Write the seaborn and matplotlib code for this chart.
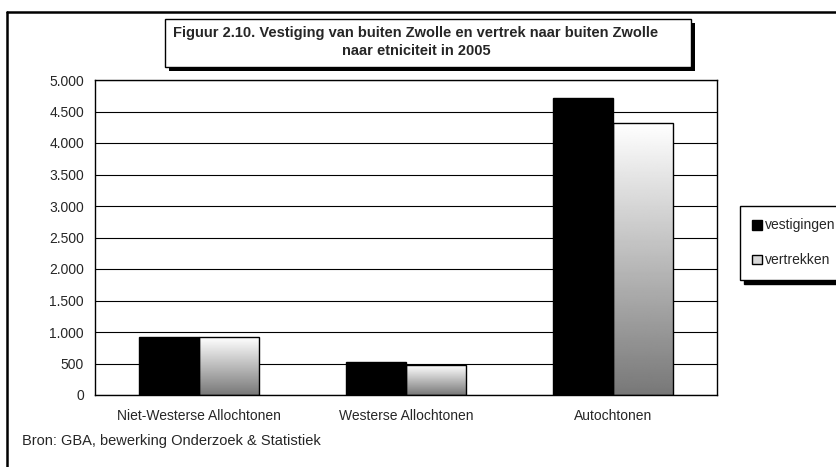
import numpy as np
import pandas as pd
import matplotlib
matplotlib.use("Agg")
import matplotlib.pyplot as plt
import seaborn as sns
from matplotlib.patches import Rectangle, Patch
from matplotlib.lines import Line2D
from matplotlib.ticker import FuncFormatter, MultipleLocator

categories = ["Niet-Westerse Allochtonen", "Westerse Allochtonen", "Autochtonen"]
vestigingen = [925, 530, 4720]
vertrekken = [920, 470, 4310]
series = ["vestigingen", "vertrekken"]

title = "Figuur 2.10. Vestiging van buiten Zwolle en vertrek naar buiten Zwolle\nnaar etniciteit in 2005"
source = "Bron: GBA, bewerking Onderzoek & Statistiek"

df = pd.DataFrame({
    "categorie": categories * 2,
    "reeks": [series[0]] * 3 + [series[1]] * 3,
    "aantal": vestigingen + vertrekken,
})

sns.set_style("white")
plt.rcParams["font.family"] = ["Liberation Sans", "DejaVu Sans"]

W, H = 837, 467
fig = plt.figure(figsize=(W / 100, H / 100), dpi=100)


def fx(px):
    return px / W


def fy(py):
    return 1 - py / H


ax = fig.add_axes([fx(95), fy(395), fx(717) - fx(95), fy(80) - fy(395)])

sns.barplot(data=df, x="categorie", y="aantal", hue="reeks", order=categories,
            hue_order=series, palette={"vestigingen": "black", "vertrekken": "white"},
            edgecolor="black", linewidth=1, width=0.58, gap=0, legend=False, ax=ax)

# gradient fill for vertrekken bars (white top -> grey bottom)
grad = np.linspace(0.47, 1.0, 256).reshape(-1, 1)
for bar in ax.containers[1]:
    x, y = bar.get_x(), bar.get_y()
    w, h = bar.get_width(), bar.get_height()
    im = ax.imshow(grad, extent=[x, x + w, y, y + h], origin="lower", aspect="auto",
                   cmap="gray", vmin=0, vmax=1, zorder=bar.get_zorder() - 0.1,
                   interpolation="bilinear")
    im.set_clip_path(bar)
    bar.set_facecolor("none")

ax.set_xlim(-0.5, 2.5)
ax.set_ylim(0, 5000)
ax.yaxis.set_major_locator(MultipleLocator(500))
ax.yaxis.set_major_formatter(FuncFormatter(lambda v, _: f"{v:,.0f}".replace(",", ".")))
ax.grid(axis="y", color="black", linewidth=0.8)
ax.set_axisbelow(True)
for s in ax.spines.values():
    s.set_color("black")
    s.set_linewidth(1)
ax.tick_params(axis="both", labelsize=10, length=0, pad=8)
ax.tick_params(axis="x", pad=10)
ax.set_xlabel("")
ax.set_ylabel("")

# outer frame (top and left lines visible)
fig.add_artist(Line2D([fx(7), 1], [fy(11.5), fy(11.5)], transform=fig.transFigure,
                      color="black", linewidth=1.8))
fig.add_artist(Line2D([fx(7), fx(7)], [fy(11.5), 0], transform=fig.transFigure,
                      color="black", linewidth=1.8))

# title box with shadow
fig.add_artist(Rectangle((fx(169), fy(71)), fx(691) - fx(165), fy(19) - fy(67),
                         transform=fig.transFigure, facecolor="black", edgecolor="none"))
fig.add_artist(Rectangle((fx(165), fy(67)), fx(691) - fx(165), fy(19) - fy(67),
                         transform=fig.transFigure, facecolor="white", edgecolor="black",
                         linewidth=1))
fig.text(fx(416), fy(42), title, ha="center", va="center", fontsize=10.5,
         fontweight="bold", linespacing=1.3)

# legend with shadow
handles = [Patch(facecolor="black", edgecolor="black", label=series[0]),
           Patch(facecolor="#d8d8d8", edgecolor="black", label=series[1])]
leg = fig.legend(handles=handles, loc="upper left", bbox_to_anchor=(fx(740), fy(206)),
                 bbox_transform=fig.transFigure, fontsize=10, frameon=True, fancybox=False,
                 edgecolor="black", framealpha=1, handlelength=0.7, handleheight=0.7,
                 handletextpad=0.2, labelspacing=1.5, borderpad=0.9, borderaxespad=0,
                 shadow={"color": "black", "alpha": 1, "ox": 3, "oy": -3})
leg.get_frame().set_linewidth(1)

fig.text(fx(22), fy(441), source, ha="left", va="center", fontsize=10.5)

fig.savefig("out.png", dpi=100)
